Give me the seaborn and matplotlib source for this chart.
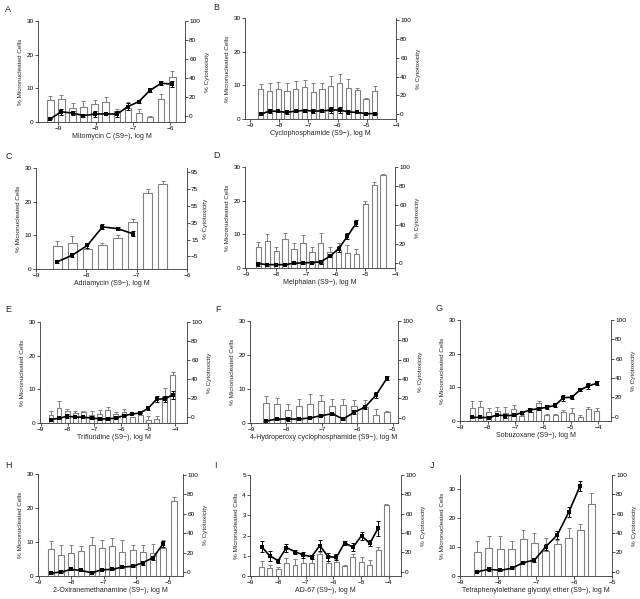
import matplotlib
matplotlib.use("Agg")
import matplotlib.pyplot as plt
from matplotlib.ticker import FixedLocator, FixedFormatter
import seaborn as sns
import numpy as np

sns.set_style("white")
plt.rcParams['font.family'] = ['Liberation Sans', 'DejaVu Sans']

# ---------------- data ----------------
# A Mitomycin C
xA = [-9.22, -8.92, -8.62, -8.33, -8.03, -7.73, -7.43, -7.13, -6.84, -6.54, -6.24, -5.94]
mnA = [6.6, 6.9, 4.1, 4.4, 5.4, 5.9, 3.2, 4.2, 2.8, 1.5, 6.8, 13.5]
mnA_err = [1.0, 1.2, 1.5, 1.9, 1.2, 1.5, 0.7, 1.7, 1.1, 0.3, 1.6, 1.6]
ctA = [-2.4, 4.9, 3.5, 1.0, 2.4, 2.8, 2.4, 10.4, 15.6, 27.4, 34.7, 34.0]
ctA_err = [0.5, 3, 2, 2, 3, 0.5, 3, 4, 2, 2, 2, 3]

# B Cyclophosphamide
xB = [-8.63, -8.33, -8.03, -7.73, -7.43, -7.13, -6.83, -6.53, -6.23, -5.93, -5.63, -5.33, -5.03, -4.73]
mnB = [8.8, 8.4, 9.0, 8.4, 8.9, 9.4, 8.1, 8.9, 9.7, 10.7, 9.2, 8.5, 5.8, 8.2]
mnB_err = [1.6, 2.3, 2.0, 2.3, 2.4, 2.1, 2.6, 1.9, 3.0, 2.6, 2.6, 0.6, 0.3, 1.6]
ctB = [0.0, 3.5, 3.0, 2.0, 3.5, 4.0, 3.5, 3.5, 4.5, 4.5, 2.5, 2.0, 0.7, 0.7]
ctB_err = [0.5, 2, 1, 1.5, 0.5, 2, 2, 1, 3, 3, 2, 0.5, 0.3, 0.3]

# C Adriamycin
xC = [-8.58, -8.28, -7.98, -7.68, -7.38, -7.08, -6.78, -6.48]
mnC = [6.7, 7.6, 6.0, 7.0, 9.3, 14.0, 22.7, 25.2]
mnC_err = [1.5, 2.1, 1.5, 0.8, 0.9, 1.0, 1.2, 1.0]
ctC = [-11.5, -3.6, 8.0, 30.0, 28.0, 22.0]
ctC_err = [1, 2, 3, 3, 2, 3]

# D Melphalan
xD = [-8.6, -8.3, -8.0, -7.7, -7.4, -7.1, -6.8, -6.5, -6.2, -5.9, -5.6, -5.3, -5.0, -4.7, -4.4]
mnD = [6.1, 8.1, 5.1, 8.5, 5.6, 7.5, 4.9, 7.5, 4.8, 5.4, 4.4, 4.3, 19.0, 24.8, 27.5]
mnD_err = [1.6, 2.1, 1.1, 1.9, 1.8, 2.3, 1.4, 2.9, 1.4, 2.0, 2.4, 1.4, 1.0, 0.8, 0.3]
ctD = [-0.5, -1.5, -1.5, -1.5, 0.0, 0.3, 0.7, 1.5, 7.0, 15.0, 28.0, 42.0]
ctD_err = [2, 1, 0.5, 0.5, 0.5, 1, 1, 2, 1, 3, 3, 3]

# E Trifluridine
xE = [-8.62, -8.32, -8.02, -7.71, -7.41, -7.11, -6.81, -6.50, -6.20, -5.90, -5.59, -5.29, -4.99, -4.68, -4.38, -4.08]
mnE = [2.5, 4.5, 3.7, 3.0, 3.2, 2.5, 2.8, 3.8, 2.8, 3.2, 1.7, 2.5, 1.0, 1.2, 8.1, 14.3]
mnE_err = [1.2, 2.0, 0.6, 0.7, 0.3, 1.0, 1.0, 1.0, 0.4, 1.1, 0.2, 0.2, 1.2, 1.0, 2.3, 0.8]
ctE = [-2.4, -1.0, 1.0, 0.3, 0.0, -0.7, -1.7, -1.7, -0.7, 1.7, 3.5, 4.5, 9.7, 19.0, 19.4, 23.6]
ctE_err = [1, 0.5, 2, 0.5, 0.5, 1, 1, 0.5, 0.5, 0.5, 0.5, 0.5, 2, 3, 3, 4]

# F 4-Hydroperoxy cyclophosphamide
xF = [-8.58, -8.27, -7.96, -7.65, -7.34, -7.03, -6.71, -6.40, -6.09, -5.78, -5.47, -5.16]
mnF = [6.0, 5.7, 3.9, 5.1, 5.7, 6.4, 5.1, 5.4, 5.0, 4.7, 2.4, 3.2]
mnF_err = [2.0, 1.7, 1.6, 1.9, 2.7, 1.9, 2.1, 1.8, 1.9, 2.0, 1.7, 0.2]
ctF = [-3.4, -1.4, -1.4, -1.4, -0.3, 2.0, 4.1, -1.4, 5.5, 11.0, 23.4, 41.0]
ctF_err = [0.5, 0.5, 2, 0.5, 0.5, 0.5, 0.5, 0.5, 2, 2, 3, 2]

# G Sobuzoxane
xG = [-8.56, -8.26, -7.96, -7.66, -7.36, -7.06, -6.76, -6.46, -6.16, -5.86, -5.56, -5.26, -4.96, -4.66, -4.36, -4.06]
mnG = [3.8, 4.3, 2.8, 3.0, 2.5, 3.5, 1.5, 2.8, 5.3, 1.8, 1.8, 2.8, 2.3, 1.3, 3.5, 3.0]
mnG_err = [2.2, 1.7, 1.0, 1.1, 1.8, 1.3, 0.3, 0.8, 0.5, 0.3, 0.3, 0.4, 1.5, 0.4, 0.8, 0.8]
ctG = [-0.7, -0.7, -1.0, 1.7, 1.0, 1.4, 4.1, 6.9, 8.3, 9.7, 11.7, 19.7, 20.0, 27.6, 31.7, 34.5]
ctG_err = [0.5, 0.5, 0.5, 0.5, 2, 0.5, 1, 2, 1, 2, 2, 3, 2, 1, 3, 2]

# H 2-Oxiranemethanamine
xH = [-8.63, -8.32, -8.00, -7.69, -7.37, -7.06, -6.74, -6.43, -6.11, -5.80, -5.48, -5.17, -4.85]
mnH = [8.0, 6.1, 6.7, 7.3, 9.2, 8.2, 8.8, 7.0, 7.7, 7.0, 6.7, 8.3, 22.0]
mnH_err = [2.3, 3.1, 2.3, 1.5, 2.4, 2.5, 2.4, 3.5, 1.5, 2.0, 2.6, 2.4, 1.2]
ctH = [-1.0, 0.0, 2.8, 1.7, -0.7, 2.4, 2.8, 5.2, 5.9, 9.7, 14.8, 29.3]
ctH_err = [0.5, 0.5, 0.5, 0.5, 0.5, 0.5, 0.5, 0.5, 0.5, 2, 2, 3]

# I AD-67
xI = [-8.60, -8.30, -8.00, -7.70, -7.39, -7.09, -6.79, -6.49, -6.19, -5.89, -5.59, -5.29, -4.98, -4.68, -4.38, -4.08]
mnI = [0.46, 0.38, 0.33, 0.63, 0.55, 0.63, 0.66, 1.09, 0.66, 0.71, 0.50, 0.96, 0.68, 0.55, 1.29, 3.51]
mnI_err = [0.30, 0.17, 0.13, 0.25, 0.28, 0.25, 0.17, 0.10, 0.38, 0.15, 0.05, 0.15, 0.25, 0.25, 0.13, 0.03]
ctI = [25.9, 16.2, 11.4, 24.8, 20.7, 17.2, 15.5, 26.9, 15.5, 14.8, 30.0, 25.2, 37.2, 29.3, 44.8]
ctI_err = [6, 5, 2, 4, 2, 3, 2, 6, 4, 3, 2, 4, 4, 3, 8]

# J Tetraphenylolethane glycidyl ether
xJ = [-8.54, -8.24, -7.94, -7.64, -7.34, -7.04, -6.74, -6.44, -6.14, -5.84, -5.54]
mnJ = [8.3, 9.6, 9.3, 9.3, 12.8, 11.5, 8.5, 11.1, 13.0, 15.9, 24.8]
mnJ_err = [3.9, 4.3, 4.5, 2.9, 3.1, 3.5, 4.5, 1.5, 3.5, 2.1, 4.0]
ctJ = [0.0, 2.4, 1.4, 3.4, 9.3, 12.0, 25.9, 38.0, 61.4, 88.6]
ctJ_err = [0.5, 2, 0.5, 0.5, 0.5, 2, 3, 4, 5, 5]

labels = ["A", "B", "C", "D", "E", "F", "G", "H", "I", "J"]
xlabels = [
    "Mitomycin C (S9−), log M",
    "Cyclophosphamide (S9−), log M",
    "Adriamycin (S9−), log M",
    "Melphalan (S9−), log M",
    "Trifluridine (S9−), log M",
    "4-Hydroperoxy cyclophosphamide (S9−), log M",
    "Sobuzoxane (S9−), log M",
    "2-Oxiranemethanamine (S9−), log M",
    "AD-67 (S9−), log M",
    "Tetraphenylolethane glycidyl ether (S9−), log M",
]

# ---------------- layout (pixels: left, right, top, bottom) ----------------
W, H = 640, 599
boxes = [
    (38, 185, 21, 122), (245, 396, 18, 119),
    (36, 187, 168, 269), (245, 395, 167, 268),
    (40, 187, 322, 423), (250, 398, 321, 423), (460, 611, 320, 421),
    (38, 183, 474, 576), (250, 401, 475, 576), (460, 612, 475, 576),
]
xlims = [(-9.55, -5.6), (-9.17, -4), (-9.0, -6), (-9.05, -4), (-9.03, -3.55),
         (-9.03, -4.85), (-9.0, -3.54), (-9.02, -4.56), (-9.02, -3.55), (-9.0, -5)]
xticks = [[-9, -8, -7, -6], [-9, -8, -7, -6, -5, -4], [-9, -8, -7, -6], [-9, -8, -7, -6, -5, -4],
          [-9, -8, -7, -6, -5, -4], [-9, -8, -7, -6, -5], [-9, -8, -7, -6, -5, -4],
          [-9, -8, -7, -6, -5], [-9, -8, -7, -6, -5, -4], [-9, -8, -7, -6, -5]]
ylimL = [(0, 30)] * 8 + [(0, 5), (0, 35)]
yticksL = [[0, 10, 20, 30]] * 8 + [[0, 1, 2, 3, 4, 5], [0, 10, 20, 30]]
ylimR = [(-5.8, 100), (-5, 102), (-20, 100), (-5, 100), (-6, 100), (-5.5, 100),
         (-4.5, 100), (-4, 101), (-4.5, 100), (-4.5, 100)]
yticksR = [[0, 20, 40, 60, 80, 100]] * 2 + [[-5, 15, 35, 55, 75, 95]] + [[0, 20, 40, 60, 80, 100]] * 7
letter_pos = [(5, 9), (213, 7), (5, 156), (213, 155), (5, 310), (215, 309), (435, 308),
              (5, 466), (214, 466), (430, 466)]

panels = [
    (xA, mnA, mnA_err, ctA, ctA_err),
    (xB, mnB, mnB_err, ctB, ctB_err),
    (xC, mnC, mnC_err, ctC, ctC_err),
    (xD, mnD, mnD_err, ctD, ctD_err),
    (xE, mnE, mnE_err, ctE, ctE_err),
    (xF, mnF, mnF_err, ctF, ctF_err),
    (xG, mnG, mnG_err, ctG, ctG_err),
    (xH, mnH, mnH_err, ctH, ctH_err),
    (xI, mnI, mnI_err, ctI, ctI_err),
    (xJ, mnJ, mnJ_err, ctJ, ctJ_err),
]

fig = plt.figure(figsize=(W / 100, H / 100), dpi=100)
fs = 4.6
spine_c = "#333333"
bar_c = "#808080"

for i, (xs, mn, mn_err, ct, ct_err) in enumerate(panels):
    l, r, t, b = boxes[i]
    ax = fig.add_axes([l / W, 1 - b / H, (r - l) / W, (b - t) / H])
    sns.barplot(x=xs, y=mn, ax=ax, native_scale=True, width=0.6, color="white",
                edgecolor=bar_c, linewidth=0.8, errorbar=None, saturation=1)
    ax.errorbar(xs, mn, yerr=[np.zeros(len(mn)), mn_err], fmt="none", ecolor=bar_c,
                elinewidth=0.7, capsize=1.6, capthick=0.7)

    ax2 = ax.twinx()
    xl = xs[:len(ct)]
    sns.lineplot(x=xl, y=ct, ax=ax2, color="black", linewidth=1.2, marker="s",
                 markersize=2.6, markeredgewidth=0, sort=False)
    ax2.errorbar(xl, ct, yerr=ct_err, fmt="none", ecolor="black",
                 elinewidth=0.7, capsize=1.6, capthick=0.7)

    ax.set_xlim(*xlims[i])
    ax.set_ylim(*ylimL[i])
    ax.xaxis.set_major_locator(FixedLocator(xticks[i]))
    ax.xaxis.set_major_formatter(FixedFormatter(["−%d" % abs(v) for v in xticks[i]]))
    ax.set_yticks(yticksL[i])
    ax.set_xlabel(xlabels[i], fontsize=fs + 0.4, labelpad=1.5)
    ax.set_ylabel("% Micronucleated Cells", fontsize=fs, labelpad=2.5)
    ax.tick_params(axis="both", labelsize=fs, length=2, width=0.6, pad=1,
                   direction="out", colors=spine_c, labelcolor="black",
                   bottom=True, left=True)
    for s in ["top", "right"]:
        ax.spines[s].set_visible(False)
    for s in ["left", "bottom"]:
        ax.spines[s].set_linewidth(0.6)
        ax.spines[s].set_color(spine_c)

    ax2.set_ylim(*ylimR[i])
    ax2.set_yticks(yticksR[i])
    ax2.set_ylabel("% Cytotoxicity", fontsize=fs, labelpad=3.5)
    ax2.tick_params(axis="y", labelsize=fs, length=2, width=0.6, pad=1,
                    direction="out", colors=spine_c, labelcolor="black", right=True)
    for s in ["top", "left", "bottom"]:
        ax2.spines[s].set_visible(False)
    ax2.spines["right"].set_linewidth(0.6)
    ax2.spines["right"].set_color(spine_c)
    ax2.set_xlim(*xlims[i])

    lx, ly = letter_pos[i]
    fig.text(lx / W, 1 - ly / H, labels[i], fontsize=6.5, ha="left", va="center")

fig.savefig("out.png", dpi=100, facecolor="white")
